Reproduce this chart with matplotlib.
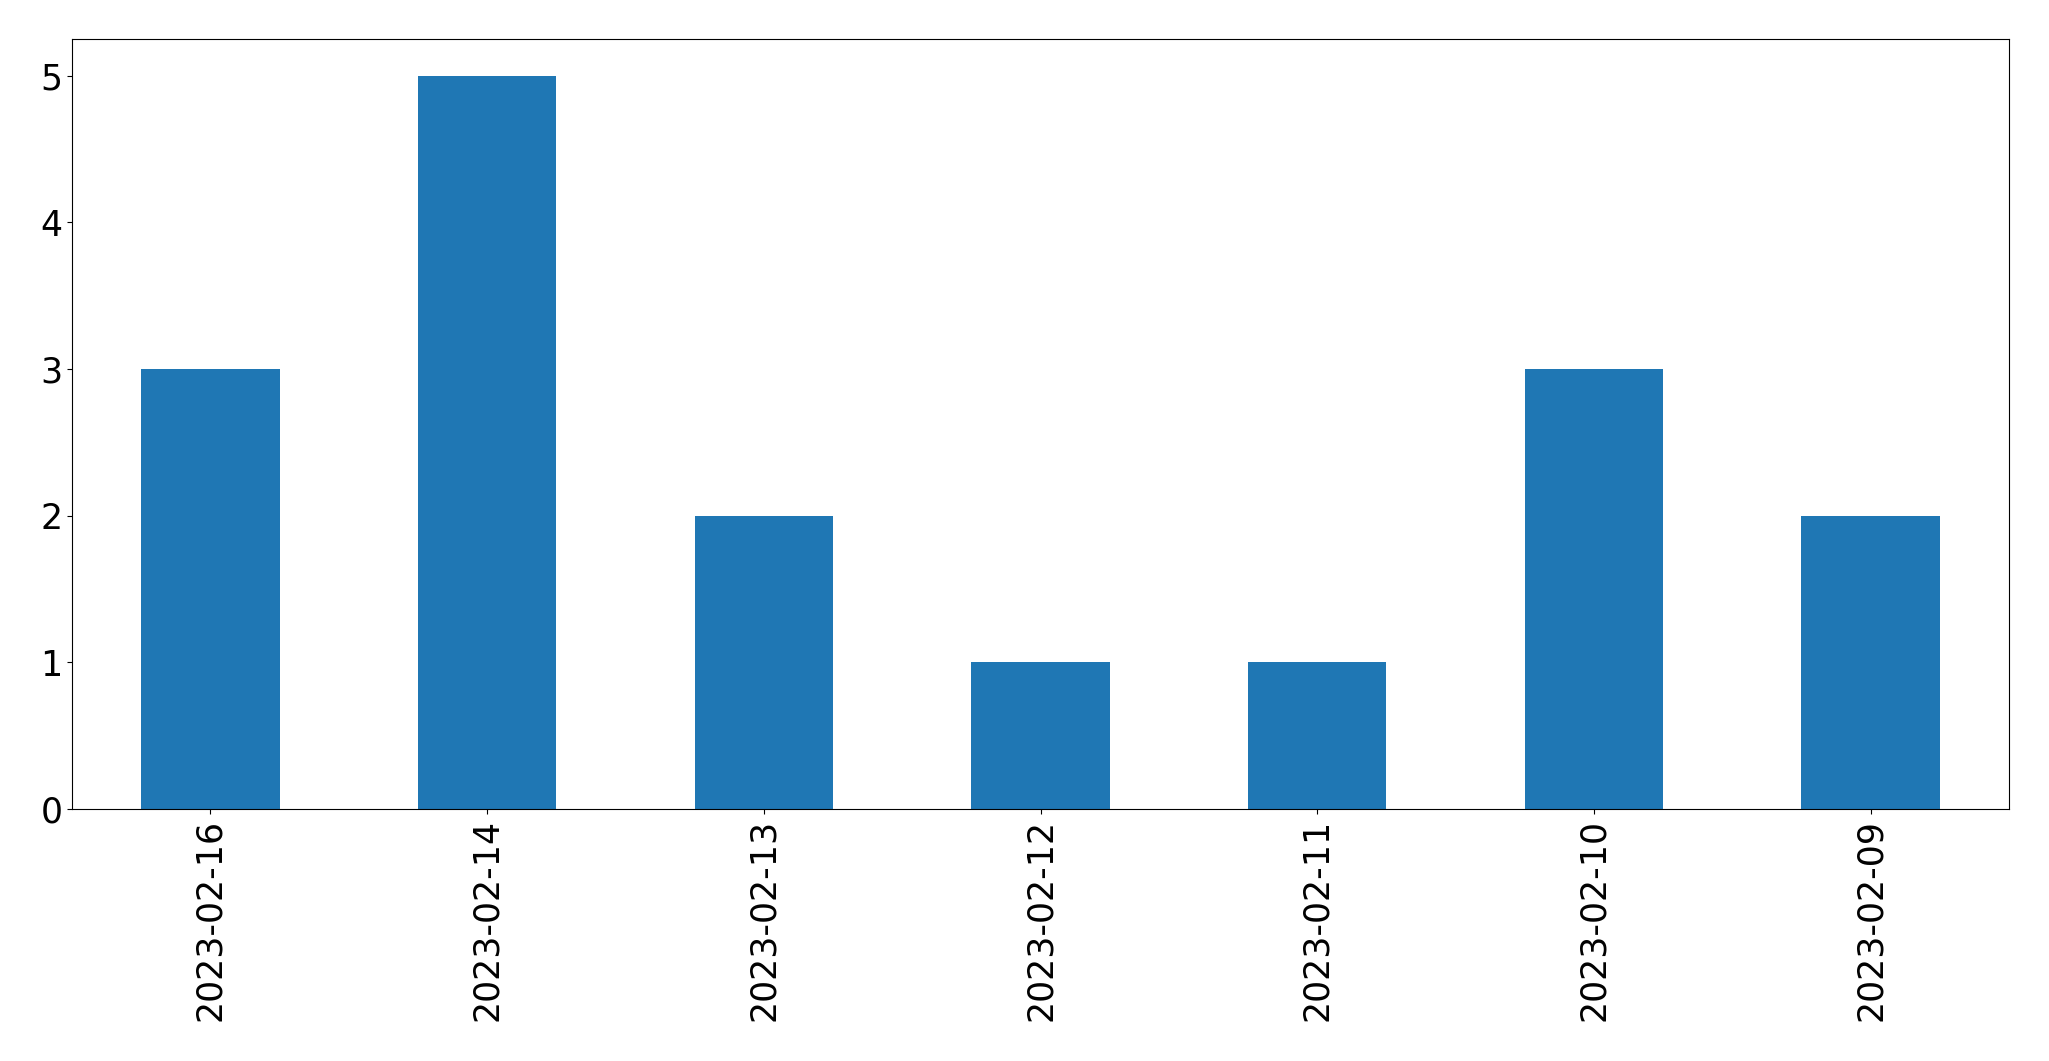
import matplotlib
matplotlib.use('Agg')
import matplotlib.pyplot as plt
import numpy as np

dates = ['2023-02-16', '2023-02-14', '2023-02-13', '2023-02-12',
         '2023-02-11', '2023-02-10', '2023-02-09']
counts = [3, 5, 2, 1, 1, 3, 2]

fig = plt.figure(figsize=(20.49, 10.61), dpi=100)
ax = fig.add_axes([72 / 2049, 1 - 809 / 1061, (2009 - 72) / 2049, (809 - 39) / 1061])

x = np.arange(len(dates))
ax.bar(x, counts, width=0.5, color='#1f77b4')
ax.set_xlim(-0.5, len(dates) - 0.5)
ax.set_xticks(x)
ax.set_xticklabels(dates, rotation=90)
ax.tick_params(axis='both', labelsize=25)

plt.savefig('out.png', dpi=100)
